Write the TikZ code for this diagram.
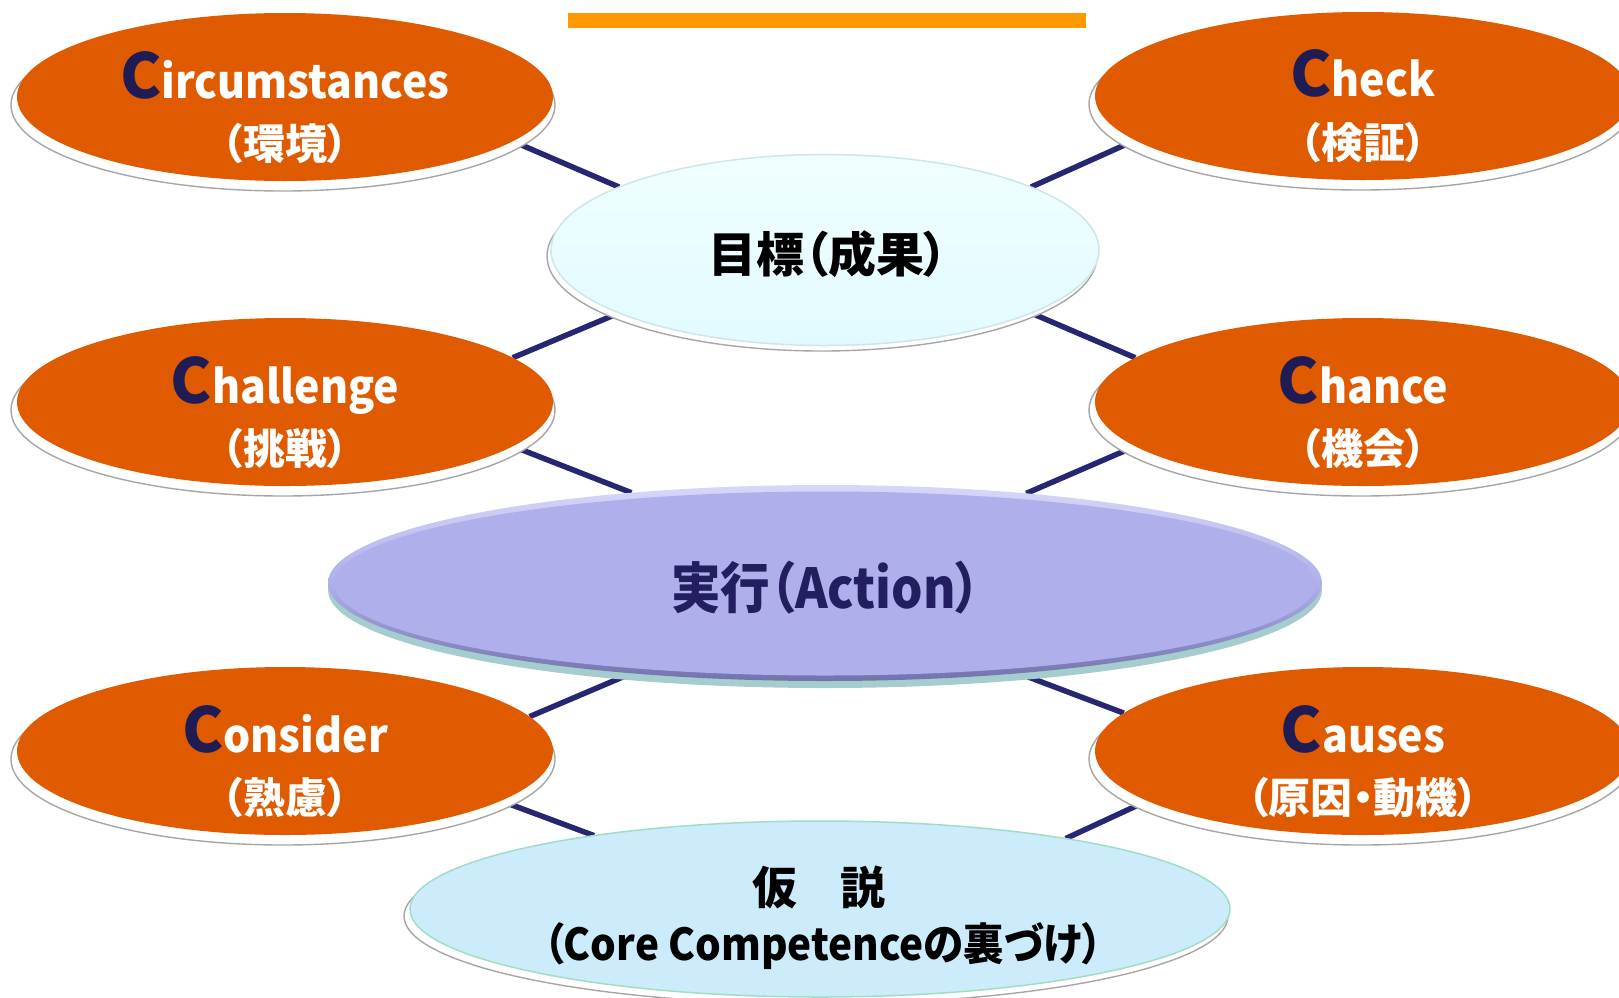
\documentclass[tikz,border=0pt]{standalone}
\usepackage{fontspec}
\newfontfamily\jp{Noto Sans CJK JP}[RawFeature=+palt]
\newfontfamily\jpw{Noto Sans CJK JP}[RawFeature=+palt, FakeStretch=0.93]
\newfontfamily\jpc{Noto Sans CJK JP}[RawFeature=+palt, FakeStretch=0.9]
\newfontfamily\jpd{Noto Sans CJK JP}[RawFeature=+palt, FakeStretch=0.92]
\usetikzlibrary{shapes.geometric,calc}
\pgfdeclarelayer{lines}
\pgfsetlayers{lines,main}
\definecolor{corange}{RGB}{224,91,0}
\definecolor{cnavy}{RGB}{30,27,85}
\definecolor{cline}{RGB}{38,38,115}
\definecolor{cbar}{RGB}{255,153,0}
\definecolor{goaltop}{RGB}{240,255,255}
\definecolor{goalbottom}{RGB}{226,250,255}
\definecolor{goalborder}{RGB}{205,230,232}
\definecolor{actfill}{RGB}{175,175,235}
\definecolor{actlight}{RGB}{215,215,248}
\definecolor{actdark}{RGB}{115,115,172}
\definecolor{actshadow}{RGB}{165,205,205}
\definecolor{hypfill}{RGB}{204,236,252}
\definecolor{hypborder}{RGB}{160,222,195}
\definecolor{acttext}{RGB}{34,30,96}
\newcommand\myCword[2]{\textcolor{cnavy}{\jp\fontsize{62}{62}\selectfont #1}\textcolor{white}{\jpw\bfseries\fontsize{46}{46}\selectfont #2}}
\tikzset{
  cov/.style={ellipse, fill=corange, minimum width=536pt, minimum height=168pt, inner sep=0pt, outer sep=0pt},
  csh/.style={fill=white, draw=gray!70, line width=1.4pt},
  conn/.style={draw=cline, line width=5.5pt},
  tC/.style={anchor=base, inner sep=0pt, font=\jp\bfseries},
  tJ/.style={inner sep=0pt, text=white, font=\jp\bfseries\fontsize{42}{42}\selectfont},
}
\begin{document}
\begin{tikzpicture}[x=1pt,y=-1pt]
\useasboundingbox (0,0) rectangle (1619,997);
\clip (0,0) rectangle (1619,997);
% title bar
\node[fill=cbar, minimum width=518pt, minimum height=15pt, inner sep=0pt] (bar) at (827,20.5) {};
% shadows of orange ovals
\foreach \cx/\cy in {285/97,1363/96,285/402,1363/402,285/751,1363/751}
  \draw[csh] (\cx-2,\cy+8) ellipse [x radius=272pt, y radius=86pt];
% orange ovals
\node[cov] (circ) at (285,97) {};
\node[cov] (check) at (1363,96) {};
\node[cov] (chal) at (285,402) {};
\node[cov] (chance) at (1363,402) {};
\node[cov] (cons) at (285,751) {};
\node[cov] (causes) at (1363,751) {};
% goal
\draw[csh] (822,256) ellipse [x radius=275pt, y radius=95pt];
\node[ellipse, minimum width=548pt, minimum height=191pt, inner sep=0pt, outer sep=0pt,
  top color=goaltop, bottom color=goalbottom, draw=goalborder, line width=1.5pt] (goal) at (825,250) {};
% action
\fill[actshadow] (825,590) ellipse [x radius=497pt, y radius=98pt];
\node[ellipse, minimum width=994pt, minimum height=196pt, inner sep=0pt, outer sep=0pt,
  top color=actlight, bottom color=actdark, middle color=actfill] (act) at (825,583) {};
\fill[actfill] (825,583.5) ellipse [x radius=491pt, y radius=92pt];
% hypothesis
\draw[csh] (816,916) ellipse [x radius=412pt, y radius=88pt];
\node[ellipse, minimum width=820pt, minimum height=176pt, inner sep=0pt, outer sep=0pt,
  fill=hypfill, draw=hypborder, line width=1.5pt] (hyp) at (820,909) {};
% connectors
\begin{pgfonlayer}{lines}
\draw[conn] (circ.-11.6) -- (goal.163.4);
\draw[conn] (goal.17.4) -- (check.191.7);
\draw[conn] (chal.11.2) -- (goal.197.6);
\draw[conn] (goal.-17.7) -- (chance.169.1);
\draw[conn] (chal.-11.3) -- (act.155.8);
\draw[conn] (act.24.3) -- (chance.191.6);
\draw[conn] (cons.8.8) -- (act.205.2);
\draw[conn] (act.-25.3) -- (causes.171.1);
\draw[conn] (cons.-13.7) -- (hyp.162.5);
\draw[conn] (hyp.16.7) -- (causes.193.7);
\end{pgfonlayer}
% texts of orange ovals
\node[tC] (circT) at ($(circ.center)+(0,1)$) {\myCword{C}{ircumstances}};
\node[tJ] (circJ) at ($(circ.center)+(0,47)$) {（環境）};
\node[tC] (checkT) at ($(check.center)+(0,0)$) {\myCword{C}{heck}};
\node[tJ] (checkJ) at ($(check.center)+(0,47)$) {（検証）};
\node[tC] (chalT) at ($(chal.center)+(0,1)$) {\myCword{C}{hallenge}};
\node[tJ] (chalJ) at ($(chal.center)+(0,47)$) {（挑戦）};
\node[tC] (chanceT) at ($(chance.center)+(0,1)$) {\myCword{C}{hance}};
\node[tJ] (chanceJ) at ($(chance.center)+(0,47)$) {（機会）};
\node[tC] (consT) at ($(cons.center)+(0,1)$) {\myCword{C}{onsider}};
\node[tJ] (consJ) at ($(cons.center)+(0,47)$) {（熟慮）};
\node[tC] (causesT) at ($(causes.center)+(0,1)$) {\myCword{C}{auses}};
\node[tJ] (causesJ) at ($(causes.center)+(0,47)$) {（原因・動機）};
% centre texts
\node[inner sep=0pt, font=\jp\bfseries\fontsize{48}{48}\selectfont] (goalT) at ($(goal.center)+(3,4)$) {目標（成果）};
\node[inner sep=0pt, text=acttext, font=\jpc\bfseries\fontsize{55}{55}\selectfont] (actT) at ($(act.center)+(1,5)$) {実行（Action）};
\node[inner sep=0pt, font=\jp\bfseries\fontsize{45}{45}\selectfont] (hypT1) at ($(hyp.center)+(-1,-22)$) {仮\hspace{0.95em}説};
\node[inner sep=0pt, font=\jpd\bfseries\fontsize{44}{44}\selectfont] (hypT2) at ($(hyp.center)+(3,37)$) {（Core Competenceの裏づけ）};
\end{tikzpicture}
\end{document}
